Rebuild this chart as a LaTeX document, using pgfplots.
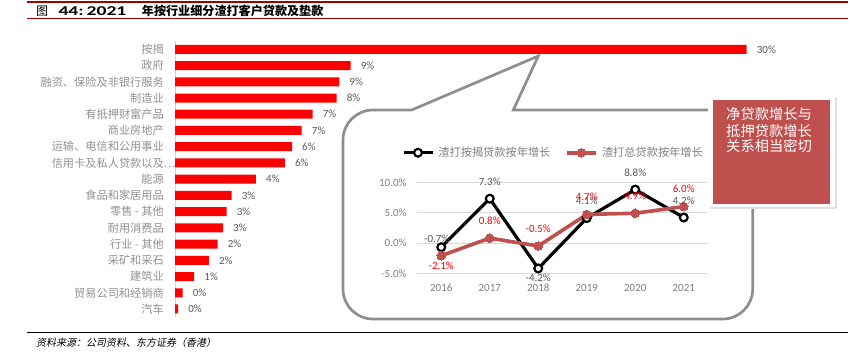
\documentclass[border=0pt]{standalone}
\usepackage{fontspec}
\usepackage{pgfplots}
\usepackage{pgfplotstable}
\pgfplotsset{compat=1.18}
\setmainfont{Noto Sans CJK SC}
\newfontfamily\lat{Carlito}
\newfontfamily\cjkit{Noto Sans CJK SC}[FakeSlant=0.2]
\newcommand\fs[1]{\fontsize{#1}{#1}\selectfont}
\definecolor{catgrey}{HTML}{909090}
\definecolor{valgrey}{HTML}{595959}
\definecolor{tickgrey}{HTML}{7F7F7F}
\definecolor{gridgrey}{HTML}{D9D9D9}
\definecolor{bubgrey}{HTML}{8E8E8E}
\definecolor{boxred}{HTML}{C0504D}
\definecolor{titlered}{HTML}{A00000}
\definecolor{barred}{HTML}{FF0000}

\pgfplotstableread{
y v lab
16 30 30
15 9.22 9
14 8.62 9
13 8.48 8
12 7.22 7
11 6.65 7
10 6.14 6
9 5.77 6
8 4.25 4
7 2.97 3
6 2.71 3
5 2.52 3
4 2.24 2
3 1.78 2
2 1.01 1
1 0.40 0
0 0.16 0
}\bardata

% x: 0=2016 ... 5=2021
\pgfplotstableread{
x y lab
0 -0.7 -0.7
1 7.3 7.3
2 -4.2 -4.2
3 4.1 4.1
4 8.8 8.8
5 4.2 4.2
}\blk

\pgfplotstableread{
x y lab
0 -2.1 -2.1
1 0.8 0.8
2 -0.5 -0.5
3 4.7 4.7
4 4.9 4.9
5 6.0 6.0
}\rd

\begin{document}
\begin{tikzpicture}
\useasboundingbox (0pt,0pt) rectangle (864pt,357pt);

% title
\draw[titlered, line width=2pt] (27pt,355pt) -- (847.7pt,355pt);
\draw[titlered, line width=1.3pt] (27pt,338.7pt) -- (847.7pt,338.7pt);
\node[anchor=west, inner sep=0pt] at (36pt,346pt) {\fs{12}图};
\node[anchor=west, inner sep=0pt] at (58.3pt,346pt) {\scalebox{1.45}[1]{\lat\bfseries\fs{13.5}44:\kern0.15em 2021}};
\node[anchor=west, inner sep=0pt] at (141.7pt,346pt) {\bfseries\fs{12.1}年按行业细分渣打客户贷款及垫款};

% footer
\draw[black, line width=1pt] (27pt,24.7pt) -- (847.7pt,24.7pt);
\node[anchor=west, inner sep=0pt] at (36pt,14.3pt) {\cjkit\fs{10}资料来源：公司资料、东方证券（香港）};

% bar chart
\begin{axis}[
  at={(175pt,39.9pt)}, anchor=south west,
  width=571.7pt, height=275.9pt, scale only axis,
  xbar, bar width=9pt,
  xmin=0, xmax=30, ymin=-0.5, ymax=16.5,
  axis x line=none, axis y line*=left,
  y axis line style={draw=gray!35, line width=0.8pt, -},
  ytick={0,...,16},
  yticklabels={汽车,贸易公司和经销商,建筑业,采矿和采石,行业 - 其他,耐用消费品,零售 - 其他,食品和家居用品,能源,信用卡及私人贷款以及\rlap{…},运输、电信和公用事业,商业房地产,有抵押财富产品,制造业,融资、保险及非银行服务,政府,按揭},
  major tick length=0pt,
  yticklabel style={font=\fs{11.2}, color=catgrey, anchor=east, inner sep=0pt, xshift=-11pt},
  clip=false,
  nodes near coords={\pgfplotspointmeta\%},
  point meta=explicit symbolic,
  nodes near coords style={font=\lat\fs{11}, color=valgrey, anchor=west, inner sep=0pt, xshift=10pt},
]
\addplot[fill=barred, draw=none] table[x=v, y=y, meta=lab] {\bardata};
\end{axis}

% speech bubble
\draw[bubgrey, line width=2.7pt, fill=white, line join=miter]
  (411.7pt,247pt) -- (538.3pt,301pt) -- (513.3pt,247pt) -- (722.7pt,247pt)
  arc[start angle=90, end angle=0, radius=30pt] -- (752.7pt,68pt)
  arc[start angle=0, end angle=-90, radius=30pt] -- (373pt,38pt)
  arc[start angle=270, end angle=180, radius=30pt] -- (343pt,217pt)
  arc[start angle=180, end angle=90, radius=30pt] -- cycle;

% line chart
\begin{axis}[
  at={(417pt,83.7pt)}, anchor=south west,
  width=291pt, height=91pt, scale only axis,
  xmin=-0.5, xmax=5.5, ymin=-5, ymax=10,
  xtick={0,1,2,3,4,5},
  xticklabels={2016,2017,2018,2019,2020,2021},
  ytick={-5,0,5,10},
  yticklabels={-5.0\%,0.0\%,5.0\%,10.0\%},
  ymajorgrids, grid style={gridgrey, line width=0.8pt},
  axis line style={draw=none}, major tick length=0pt,
  xticklabel style={font=\lat\fs{11}, color=tickgrey, anchor=center, inner sep=0pt, yshift=-14.7pt},
  yticklabel style={font=\lat\fs{11}, color=tickgrey, anchor=east, inner sep=0pt, xshift=-10.3pt},
  clip=false,
  legend columns=2,
  legend style={at={(axis description cs:-0.0526,1.325)}, anchor=west, draw=none, fill=none,
    inner sep=0pt, font=\fs{11.2}, text=tickgrey,
    nodes={inner sep=0pt},
    /tikz/every odd column/.append style={column sep=4.3pt},
    /tikz/every even column/.append style={column sep=14.7pt}},
  legend image code/.code={\draw[mark repeat=2,mark phase=2,#1] plot coordinates {(0pt,0pt) (14.5pt,0pt) (29pt,0pt)};},
]
\addplot[black, line width=3.2pt, mark=*, mark size=3.9pt,
  mark options={fill=white, draw=black, line width=2.2pt}]
  table[x=x, y=y] {\blk};
\addlegendentry{渣打按揭贷款按年增长}
\addplot[boxred, line width=3.6pt, mark=*, mark size=4.3pt,
  mark options={fill=boxred, draw=boxred, line width=0pt}]
  table[x=x, y=y] {\rd};
\addlegendentry{渣打总贷款按年增长}
% data labels
\addplot[draw=none, mark=none, forget plot, point meta=explicit symbolic,
  nodes near coords={\pgfplotspointmeta\%},
  nodes near coords style={font=\lat\fs{11}, anchor=center, inner sep=0pt, color=valgrey, yshift=17pt}]
  table[x=x, y=y, meta=lab, skip coords between index={0}{1}, skip coords between index={2}{3}] {\blk};
\addplot[draw=none, mark=none, forget plot, point meta=explicit symbolic,
  nodes near coords={\pgfplotspointmeta\%},
  nodes near coords style={font=\lat\fs{11}, anchor=center, inner sep=0pt, color=valgrey, yshift=-9pt}]
  table[x=x, y=y, meta=lab, skip coords between index={0}{2}, skip coords between index={3}{6}] {\blk};
\addplot[draw=none, mark=none, forget plot, point meta=explicit symbolic,
  nodes near coords={\pgfplotspointmeta\%},
  nodes near coords style={font=\lat\fs{11}, anchor=center, inner sep=0pt, color=valgrey, xshift=-4.5pt, yshift=8.5pt}]
  table[x=x, y=y, meta=lab, skip coords between index={1}{6}] {\blk};
\addplot[draw=none, mark=none, forget plot, point meta=explicit symbolic,
  nodes near coords={\pgfplotspointmeta\%},
  nodes near coords style={font=\lat\fs{11}, anchor=center, inner sep=0pt, color=barred, yshift=17.3pt}]
  table[x=x, y=y, meta=lab, skip coords between index={0}{1}] {\rd};
\addplot[draw=none, mark=none, forget plot, point meta=explicit symbolic,
  nodes near coords={\pgfplotspointmeta\%},
  nodes near coords style={font=\lat\fs{11}, anchor=center, inner sep=0pt, color=barred, yshift=-10pt}]
  table[x=x, y=y, meta=lab, skip coords between index={1}{6}] {\rd};
\end{axis}

% red box
\fill[gray!25] (709.5pt,148.5pt) rectangle (836.5pt,260.5pt);
\fill[white] (708pt,150pt) rectangle (835pt,262pt);
\fill[boxred] (713.3pt,153pt) rectangle (830pt,257pt);
\node[anchor=west, inner sep=0pt, text=white] at (726pt,243pt) {\fs{14.3}净贷款增长与};
\node[anchor=west, inner sep=0pt, text=white] at (726pt,226.3pt) {\fs{14.3}抵押贷款增长};
\node[anchor=west, inner sep=0pt, text=white] at (726pt,211pt) {\fs{14.3}关系相当密切};
\end{tikzpicture}
\end{document}
